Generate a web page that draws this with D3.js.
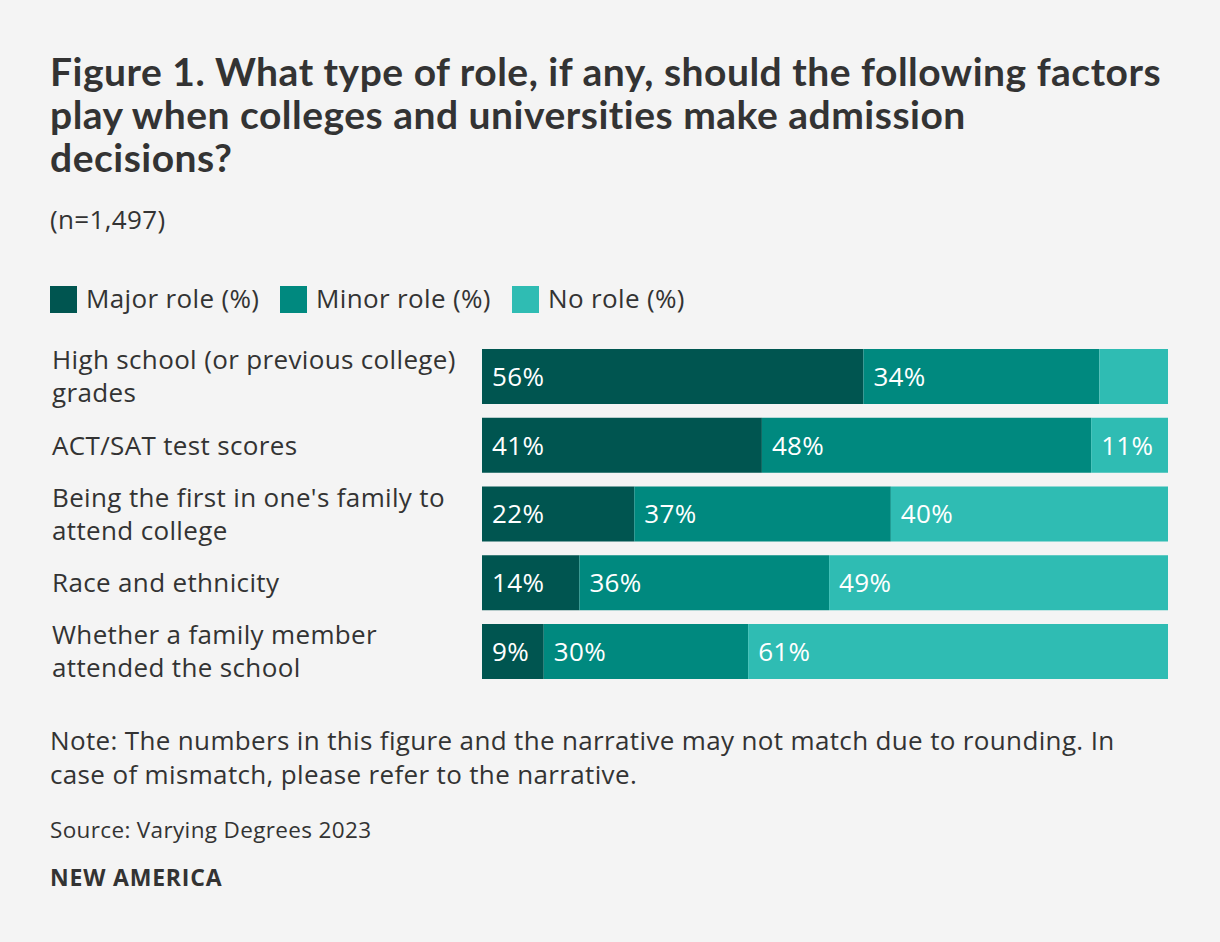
<!DOCTYPE html>
<html><head><meta charset="utf-8">
<script src="https://cdn.jsdelivr.net/npm/d3@7/dist/d3.min.js"></script>
<style>
html,body{margin:0;padding:0;background:#f4f4f4;}
svg{display:block;font-family:"Open Sans",sans-serif;}
</style></head>
<body>
<svg id="chart" width="1220" height="942"></svg>
<script>
const categories = [
  "High school (or previous college) grades",
  "ACT/SAT test scores",
  "Being the first in one's family to attend college",
  "Race and ethnicity",
  "Whether a family member attended the school"
];
const seriesNames = ["Major role (%)", "Minor role (%)", "No role (%)"];
const majorRole = [55.6, 40.8, 22.2, 14.2, 9.0];
const minorRole = [34.4, 48.0, 37.4, 36.4, 29.8];
const noRole    = [10.0, 11.2, 40.4, 49.4, 61.2];
const majorLabels = ["56%", "41%", "22%", "14%", "9%"];
const minorLabels = ["34%", "48%", "37%", "36%", "30%"];
const noLabels    = ["",    "11%", "40%", "49%", "61%"];
const colors = ["#005550", "#00897f", "#2fbcb3"];

const BODY = 26, LS = 0.35;
const svg = d3.select("#chart");
svg.append("rect").attr("width",1220).attr("height",942).attr("fill","#f4f4f4");

// Title
const titleLines = ["Figure 1. What type of role, if any, should the following factors",
  "play when colleges and universities make admission", "decisions?"];
const title = svg.append("text").attr("fill","#333").attr("font-size",39).attr("font-weight",700)
  .attr("font-family","Lato, sans-serif").attr("letter-spacing",0.5);
title.selectAll("tspan").data(titleLines).join("tspan")
  .attr("x",50).attr("y",(d,i)=>86+i*43).text(d=>d);
svg.append("text").attr("x",50).attr("y",229).attr("fill","#333")
  .attr("font-size",BODY).attr("letter-spacing",LS).text("(n=1,497)");

// Legend
const legendX = [50, 280, 512];
const lg = svg.append("g").selectAll("g").data(seriesNames).join("g")
  .attr("transform",(d,i)=>`translate(${legendX[i]},286)`);
lg.append("rect").attr("width",27).attr("height",27).attr("fill",(d,i)=>colors[i]);
lg.append("text").attr("x",36).attr("y",22).attr("font-size",BODY).attr("letter-spacing",LS)
  .attr("fill","#333").text(d=>d);

// Bars
const x0 = 482, x1 = 1168;
const x = d3.scaleLinear().domain([0,100]).range([x0,x1]);
const y = d3.scaleBand().domain(categories).range([349,679]).paddingInner(0.2).paddingOuter(0);

const rows = categories.map((c,i)=>{
  const vals = [majorRole[i], minorRole[i], noRole[i]];
  const labs = [majorLabels[i], minorLabels[i], noLabels[i]];
  let acc = 0;
  return vals.map((v,k)=>{ const s = {cat:c, k, start:acc, end:acc+v, label:labs[k]}; acc += v; return s; });
}).flat();

const bars = svg.append("g");
bars.selectAll("rect").data(rows).join("rect")
  .attr("x",d=>x(d.start)).attr("width",d=>x(d.end)-x(d.start))
  .attr("y",d=>y(d.cat)).attr("height",y.bandwidth())
  .attr("fill",d=>colors[d.k]);
bars.selectAll("text").data(rows.filter(d=>d.label)).join("text")
  .attr("x",d=>x(d.start)+10).attr("y",d=>y(d.cat)+y.bandwidth()/2)
  .attr("dy","0.36em").attr("fill","#fff").attr("font-size",BODY).attr("letter-spacing",LS)
  .text(d=>d.label);

// Category labels with wrapping
const catG = svg.append("g");
categories.forEach(c=>{
  const t = catG.append("text").attr("font-size",BODY).attr("letter-spacing",LS).attr("fill","#333");
  const words = c.split(" ");
  let lines = [], line = [];
  const meas = svg.append("text").attr("font-size",BODY).attr("letter-spacing",LS);
  words.forEach(w=>{
    line.push(w);
    meas.text(line.join(" "));
    if (meas.node().getComputedTextLength() > 425 && line.length>1){
      line.pop(); lines.push(line.join(" ")); line=[w];
    }
  });
  lines.push(line.join(" "));
  meas.remove();
  const lh = 33;
  const cy = y(c)+y.bandwidth()/2;
  const top = cy - (lines.length-1)*lh/2;
  lines.forEach((l,i)=>{
    t.append("tspan").attr("x",52).attr("y",top+i*lh).attr("dy","0.36em").text(l);
  });
});

// Notes
const noteLines = ["Note: The numbers in this figure and the narrative may not match due to rounding. In",
  "case of mismatch, please refer to the narrative."];
const note = svg.append("text").attr("font-size",BODY).attr("letter-spacing",LS).attr("fill","#333");
note.selectAll("tspan").data(noteLines).join("tspan")
  .attr("x",50).attr("y",(d,i)=>750+i*34).text(d=>d);
svg.append("text").attr("x",50).attr("y",838).attr("font-size",22.5).attr("letter-spacing",LS)
  .attr("fill","#333").text("Source: Varying Degrees 2023");
svg.append("text").attr("x",50).attr("y",886).attr("font-size",23).attr("font-weight",700)
  .attr("letter-spacing",0.8).attr("fill","#333").text("NEW AMERICA");
</script>
</body></html>
